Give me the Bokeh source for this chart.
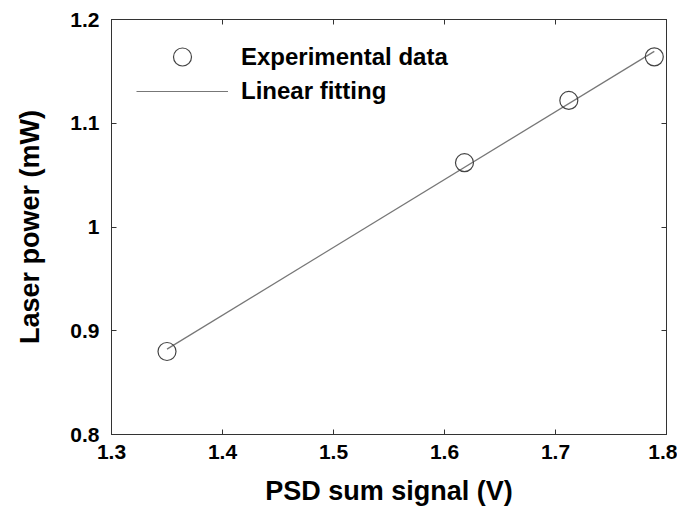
import numpy as np
from bokeh.plotting import figure
from bokeh.models import LinearAxis, FixedTicker, Range1d, Legend, LegendItem
from bokeh.embed import file_html
from bokeh.resources import INLINE

# data
psd_signal = [1.350, 1.618, 1.712, 1.789]
laser_power = [0.880, 1.062, 1.122, 1.164]
x_ticks = [1.3, 1.4, 1.5, 1.6, 1.7, 1.8]
y_ticks = [0.8, 0.9, 1.0, 1.1, 1.2]
y_tick_labels = {0.8: "0.8", 0.9: "0.9", 1.0: "1", 1.1: "1.1", 1.2: "1.2"}

slope, intercept = np.polyfit(psd_signal, laser_power, 1)
fit_x = [min(psd_signal), max(psd_signal)]
fit_y = [slope * v + intercept for v in fit_x]

FONT = "Liberation Sans"

p = figure(frame_width=555, frame_height=415, output_backend="svg", toolbar_location=None,
           x_range=Range1d(1.3, 1.8), y_range=Range1d(0.8, 1.2),
           min_border_left=111, min_border_right=11, min_border_top=19,
           min_border_bottom=70)
p.xgrid.visible = False
p.ygrid.visible = False
p.outline_line_color = "#333333"
p.outline_line_width = 1
p.background_fill_color = "white"
p.border_fill_color = "white"

bottom_ax = p.below[0]
left_ax = p.left[0]
top_ax = LinearAxis()
right_ax = LinearAxis()
p.add_layout(top_ax, "above")
p.add_layout(right_ax, "right")

bottom_ax.ticker = FixedTicker(ticks=x_ticks)
top_ax.ticker = FixedTicker(ticks=x_ticks)
left_ax.ticker = FixedTicker(ticks=y_ticks)
right_ax.ticker = FixedTicker(ticks=y_ticks)

for ax in [bottom_ax, left_ax, top_ax, right_ax]:
    ax.major_tick_in = 5
    ax.major_tick_out = 0
    ax.minor_tick_in = 0
    ax.minor_tick_out = 0
    ax.axis_line_color = "#333333"
    ax.major_tick_line_color = "#333333"
    ax.major_label_text_font = FONT
    ax.major_label_text_font_style = "bold"
    ax.major_label_text_font_size = "21px"
    ax.major_label_text_color = "black"
    ax.axis_label_text_font = FONT
    ax.axis_label_text_font_style = "bold"
    ax.axis_label_text_font_size = "27px"
    ax.axis_label_text_color = "black"

top_ax.major_label_overrides = {t: "" for t in x_ticks}
right_ax.major_label_overrides = {t: "" for t in y_ticks}
top_ax.major_label_standoff = 0
right_ax.major_label_standoff = 0

left_ax.major_label_overrides = y_tick_labels
bottom_ax.axis_label = "PSD sum signal (V)"
left_ax.axis_label = "Laser power (mW)"
bottom_ax.major_label_standoff = 10
bottom_ax.axis_label_standoff = 14
left_ax.major_label_standoff = 12
left_ax.axis_label_standoff = 22

line_r = p.line(fit_x, fit_y, line_color="#777777", line_width=1.2)
pts_r = p.scatter(psd_signal, laser_power, marker="circle", size=18,
                  fill_color=None, line_color="#444444", line_width=1.2)

def make_legend(item, glyph_h, loc):
    lg = Legend(items=[item], location=loc)
    lg.border_line_color = None
    lg.background_fill_alpha = 0
    lg.margin = 0
    lg.padding = 10
    lg.glyph_width = 92
    lg.glyph_height = glyph_h
    lg.label_height = 24
    lg.label_standoff = 13
    lg.label_text_font = FONT
    lg.label_text_font_style = "bold"
    lg.label_text_font_size = "24px"
    lg.label_text_color = "black"
    return lg

leg1 = make_legend(LegendItem(label="Experimental data", renderers=[pts_r]), 45, (25, 355))
leg2 = make_legend(LegendItem(label="Linear fitting", renderers=[line_r]), 24, (25, 329))
p.add_layout(leg1, "center")
p.add_layout(leg2, "center")

open("out.html", "w").write(file_html(p, INLINE))
